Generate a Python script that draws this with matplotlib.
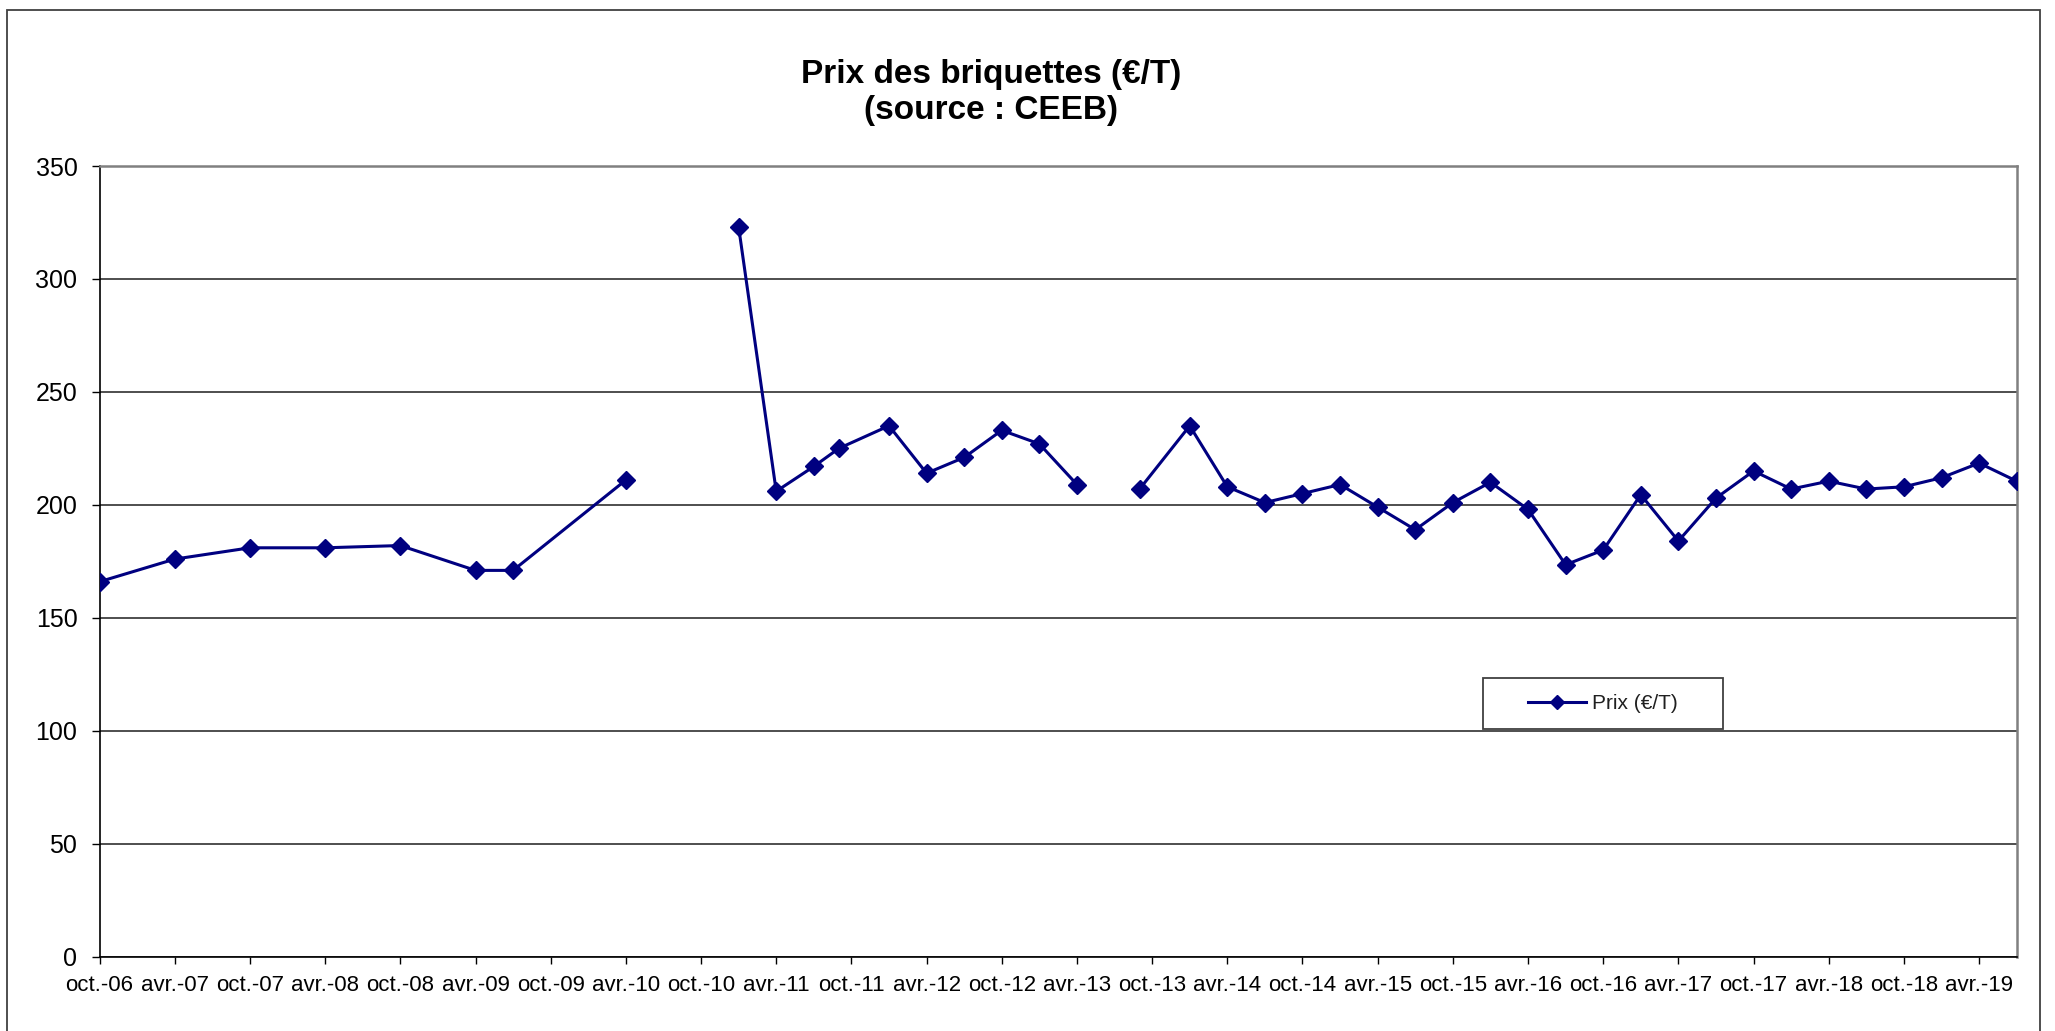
import numpy as np
import pandas as pd
import matplotlib
matplotlib.use("Agg")
import matplotlib.pyplot as plt
from matplotlib.patches import Rectangle

plt.rcParams['font.family'] = ['Liberation Sans', 'DejaVu Sans']

# ---- data ----
months = ["2006-10", "2007-04", "2007-10", "2008-04", "2008-10", "2009-04", "2009-07",
          "2010-04", "2010-10", "2011-01", "2011-04", "2011-07", "2011-09", "2012-01",
          "2012-04", "2012-07", "2012-10", "2013-01", "2013-04", "2013-07", "2013-09",
          "2014-01", "2014-04", "2014-07", "2014-10", "2015-01", "2015-04", "2015-07",
          "2015-10", "2016-01", "2016-04", "2016-07", "2016-10", "2017-01", "2017-04",
          "2017-07", "2017-10", "2018-01", "2018-04", "2018-07", "2018-10", "2019-01",
          "2019-04", "2019-07"]
prix = [166, 176, 181, 181, 182, 171, 171,
        211, np.nan, 323, 206, 217, 225, 235,
        214, 221, 233, 227, 209, np.nan, 207,
        235, 208, 201, 205, 209, 199, 189,
        201, 210, 198, 173.5, 180, 204.5, 184,
        203, 215, 207, 210.5, 207, 208, 212,
        218.5, 210.5]
tick_labels = ["oct.-06", "avr.-07", "oct.-07", "avr.-08", "oct.-08", "avr.-09", "oct.-09",
               "avr.-10", "oct.-10", "avr.-11", "oct.-11", "avr.-12", "oct.-12", "avr.-13",
               "oct.-13", "avr.-14", "oct.-14", "avr.-15", "oct.-15", "avr.-16", "oct.-16",
               "avr.-17", "oct.-17", "avr.-18", "oct.-18", "avr.-19"]
y_ticks = [0, 50, 100, 150, 200, 250, 300, 350]

# month index relative to first month
per = pd.PeriodIndex(months, freq="M")
x = np.array([(p - per[0]).n for p in per], dtype=float)
y = np.array(prix, dtype=float)

W, H = 2055, 1031
fig = plt.figure(figsize=(W / 100, H / 100), dpi=100)
fig.patch.set_facecolor("white")

# outer chart border
fig.add_artist(Rectangle((7 / W, -0.2), (2040 - 7) / W, 1.2 - 10 / H,
                         transform=fig.transFigure, fill=False,
                         edgecolor="#404040", lw=1.3))

left, right = 99.6 / W, 2016.7 / W
bottom, top = 1 - 956.7 / H, 1 - 166.0 / H
ax = fig.add_axes([left, bottom, right - left, top - bottom])

navy = "#000080"
line, = ax.plot(x, y, color=navy, lw=2.2, marker="D", ms=9,
                markerfacecolor=navy, markeredgecolor=navy, zorder=3,
                label="Prix (€/T)")

ax.set_xlim(0, x.max())
ax.set_ylim(0, 350)
ax.set_yticks(y_ticks)
ax.set_yticklabels([str(v) for v in y_ticks], fontsize=18)
ax.set_xticks(np.arange(len(tick_labels)) * 6)
ax.set_xticklabels(tick_labels, fontsize=16)

ax.yaxis.grid(True, color="#303030", lw=1.2)
ax.set_axisbelow(True)
ax.tick_params(axis="y", direction="out", length=6, width=1.0, pad=10, colors="black")
ax.tick_params(axis="x", direction="out", length=5, width=1.0, pad=8, colors="black")

for s in ["left", "bottom"]:
    ax.spines[s].set_color("black")
    ax.spines[s].set_linewidth(1.2)
for s in ["top", "right"]:
    ax.spines[s].set_color("#808080")
    ax.spines[s].set_linewidth(1.8)

# title
fig.text(991.5 / W, 1 - 92.5 / H, "Prix des briquettes (€/T)\n(source : CEEB)",
         ha="center", va="center", fontsize=24, fontweight="bold",
         multialignment="center", linespacing=1.2)

# legend box
lx0, lx1, ly0, ly1 = 1483, 1723, 678, 729
box = Rectangle((lx0 / W, 1 - ly1 / H), (lx1 - lx0) / W, (ly1 - ly0) / H,
                transform=fig.transFigure, facecolor="white",
                edgecolor="#404040", lw=1.3, zorder=5, clip_on=False)
ax.add_patch(box)
leg = ax.legend(handles=[line], loc="center",
                bbox_to_anchor=((lx0 + lx1) / 2 / W, 1 - (ly0 + ly1) / 2 / H),
                bbox_transform=fig.transFigure, frameon=False, fontsize=15,
                handlelength=2.8, handletextpad=0.3, borderpad=0.2, markerscale=0.8)
leg.set_zorder(6)
for t in leg.get_texts():
    t.set_color("#202020")

fig.savefig("out.png", dpi=100, facecolor="white")
